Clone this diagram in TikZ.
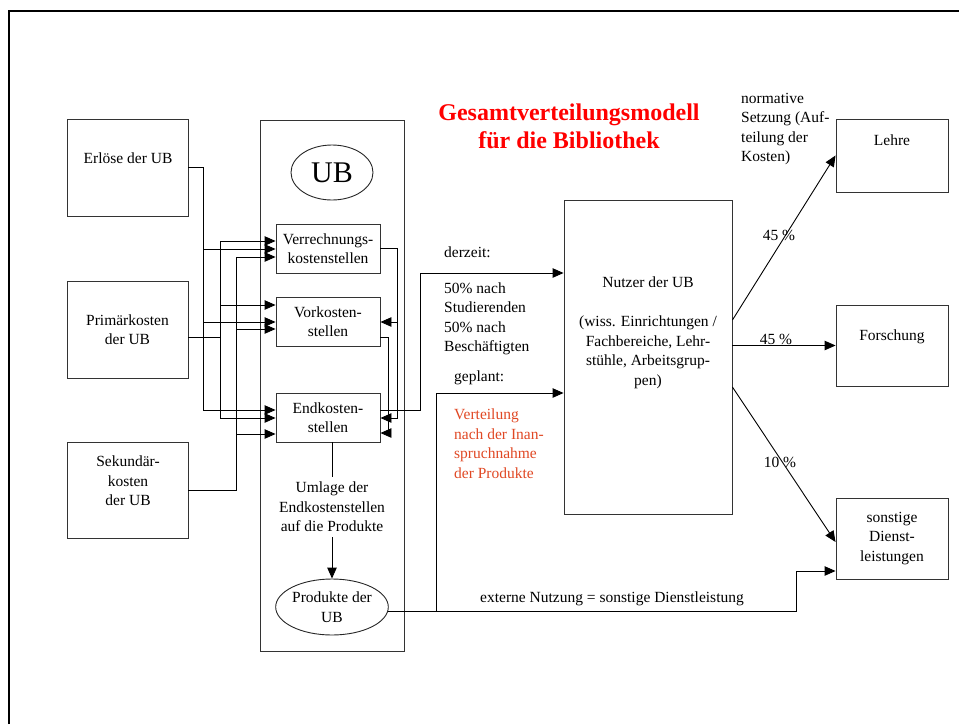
\documentclass[tikz,border=0pt]{standalone}
\usepackage{fontspec}
\setmainfont{Liberation Serif}
\usetikzlibrary{arrows.meta,shapes.geometric}
\definecolor{plannote}{RGB}{224,72,36}

\begin{document}
\begin{tikzpicture}[x=1pt,y=-1pt,
  every node/.style={font=\fontsize{15.5}{19.5}\selectfont},
  box/.style={draw=black!80, line width=0.9pt, inner sep=0pt},
  oval/.style={ellipse, draw=black!85, line width=0.9pt, inner sep=0pt},
  txt/.style={align=center, inner sep=0pt},
  link/.style={line width=0.9pt},
  arr/.style={link, -{Triangle[length=11pt,width=9.5pt]}},
]
\useasboundingbox (0,0) rectangle (959,724);

% page frame
\draw[line width=2.5pt] (9,724) -- (9,11) -- (959,11);

% title
\node[font=\fontsize{24}{28}\selectfont\bfseries, text=red, align=center] (title) at (569,126)
  {Gesamtverteilungsmodell\\für die Bibliothek};

% cost sources
\node[box, minimum width=121pt, minimum height=97pt] (erl) at (127.5,167.5) {};
\node[txt] at (128,158) {Erlöse der UB};
\node[box, minimum width=121pt, minimum height=97pt, align=center] (prim) at (127.5,329.5) {Primärkosten\\der UB};
\node[box, minimum width=121pt, minimum height=96pt] (sek) at (127.5,490) {};
\node[txt] at (128,481) {Sekundär-\\kosten\\der UB};

% library block
\node[box, minimum width=144pt, minimum height=531pt] (ub) at (332,385.5) {};
\node[oval, minimum width=82pt, minimum height=55pt, font=\fontsize{30}{34}\selectfont] (ubell) at (332,172.5) {UB};
\node[box, minimum width=104pt, minimum height=49pt, align=center] (verr) at (328,248.5) {Verrechnungs-\\kostenstellen};
\node[box, minimum width=104pt, minimum height=49pt, align=center] (vork) at (328,321.5) {Vorkosten-\\stellen};
\node[box, minimum width=104pt, minimum height=49pt, align=center] (endk) at (328,417.5) {Endkosten-\\stellen};
\node[txt, inner sep=5pt] (umlage) at (332,507) {Umlage der\\Endkostenstellen\\auf die Produkte};
\node[oval, minimum width=97pt, minimum height=56pt, align=center] (prod) at (332,607) {Produkte der\\UB};

% users
\node[box, minimum width=168pt, minimum height=314pt] (nutzer) at (648,357) {};
\node[txt] at (648,333) {Nutzer der UB\\[19.5pt](wiss. Einrichtungen /\\Fachbereiche, Lehr-\\stühle, Arbeitsgrup-\\pen)};

% targets
\node[box, minimum width=112pt, minimum height=73pt] (lehre) at (892,155.5) {};
\node[txt] at (892,140) {Lehre};
\node[box, minimum width=112pt, minimum height=81pt] (forsch) at (892,345.5) {};
\node[txt] at (892,337) {Forschung};
\node[box, minimum width=112pt, minimum height=81pt, align=center] (sonst) at (892,538.5) {sonstige\\Dienst-\\leistungen};

% annotations
\node[txt, align=left, anchor=west] at (741,129) {normative\\Setzung (Auf-\\teilung der\\Kosten)};
\node[txt, anchor=west] at (444,252) {derzeit:};
\node[txt, align=left, anchor=west] at (444,319) {50\% nach\\Studierenden\\50\% nach\\Beschäftigten};
\node[txt, anchor=west] at (454,378) {geplant:};
\node[txt, align=left, anchor=west, text=plannote] at (454,443.5) {Verteilung\\nach der Inan-\\spruchnahme\\der Produkte};
\node[txt] at (779,235) {45 \%};
\node[txt] at (776,339) {45 \%};
\node[txt] at (780,462) {10 \%};
\node[txt] at (612,599) {externe Nutzung = sonstige Dienstleistung};

% Erlöse bus
\draw[arr] (erl.east) -- (203,167.5) -- (203,410) -- (endk.west |- 0,410);
\draw[arr] (203,249) -- (verr.west |- 0,249);
\draw[arr] (203,322) -- (vork.west |- 0,322);

% Primärkosten bus
\draw[link] (prim.east |- 0,337) -- (220,337);
\draw[arr] (220,337) -- (220,241) -- (verr.west |- 0,241);
\draw[arr] (220,337) -- (220,418) -- (endk.west |- 0,418);
\draw[arr] (220,305) -- (vork.west |- 0,305);

% Sekundärkosten bus
\draw[arr] (sek.east) -- (236,490) -- (236,257) -- (verr.west |- 0,257);
\draw[arr] (236,329) -- (vork.west |- 0,329);
\draw[arr] (236,434) -- (endk.west |- 0,434);

% internal allocation
\draw[arr] (verr.east |- 0,248) -- (397,248) -- (397,418) -- (endk.east |- 0,418);
\draw[arr] (397,322) -- (vork.east |- 0,322);
\draw[arr] (vork.east |- 0,337) -- (388,337) -- (388,433) -- (endk.east |- 0,433);

% to products
\draw[link] (endk.south -| umlage) -- (umlage.north);
\draw[arr] (umlage.south) -- (prod.north);

% to users
\draw[arr] (endk.east |- 0,410) -- (420,410) -- (420,273) -- (nutzer.west |- 0,273);
\draw[arr] (prod.-5) -| (796,571) -- (sonst.west |- 0,571);
\draw[arr] (prod.-5 -| 436,0) -- (436,393) -- (nutzer.west |- 0,393);

% distribution to targets
\draw[arr] (nutzer.east |- 0,320) -- (lehre.west);
\draw[arr] (nutzer.east |- forsch.west) -- (forsch.west);
\draw[arr] (nutzer.east |- 0,387) -- (sonst.west |- 0,542);
\end{tikzpicture}
\end{document}
